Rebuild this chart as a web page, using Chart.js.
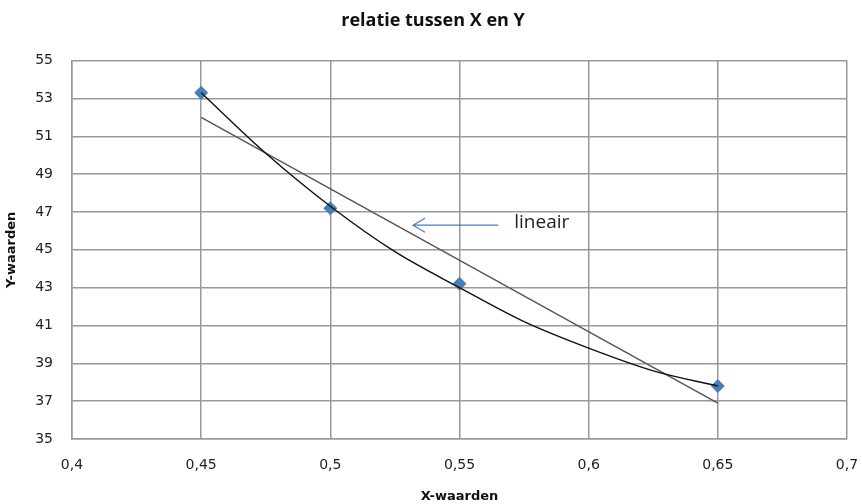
<!DOCTYPE html>
<html>
<head>
<meta charset="utf-8">
<script src="https://cdn.jsdelivr.net/npm/chart.js@4.4.1/dist/chart.umd.min.js"></script>
<style>
  html, body { margin: 0; padding: 0; background: #fff; }
  #wrap { width: 862px; height: 504px; }
</style>
</head>
<body>
<div id="wrap"><canvas id="myScatterChart" width="862" height="504"></canvas></div>
<script>
// measured points
const xValues = [0.45, 0.5, 0.55, 0.65];
const yValues = [53.3, 47.2, 43.2, 37.8];

// linear trendline endpoints
const linX = [0.45, 0.65];
const linY = [52.0, 36.9];

// curved trendline
const curveX = [0.45, 0.475, 0.5, 0.525, 0.55, 0.575, 0.6, 0.625, 0.65];
const curveY = [53.3, 50.1, 47.3, 44.9, 43.0, 41.2, 39.8, 38.6, 37.8];

// annotation arrow "lineair"
const arrowTip = { x: 0.532, y: 46.3 };
const arrowTail = { x: 0.565, y: 46.3 };
const arrowText = 'lineair';

const toPoints = (xs, ys) => xs.map((x, i) => ({ x: x, y: ys[i] }));

const arrowPlugin = {
    id: 'arrowPlugin',
    afterDatasetsDraw(chart) {
        const ctx = chart.ctx;
        const xs = chart.scales.x, ys = chart.scales.y;
        const x1 = xs.getPixelForValue(arrowTail.x), y1 = ys.getPixelForValue(arrowTail.y);
        const x2 = xs.getPixelForValue(arrowTip.x), y2 = ys.getPixelForValue(arrowTip.y);
        ctx.save();
        ctx.strokeStyle = '#4a7ebb';
        ctx.lineWidth = 1.2;
        ctx.beginPath();
        ctx.moveTo(x1, y1);
        ctx.lineTo(x2, y2);
        ctx.moveTo(x2 + 12, y2 - 7);
        ctx.lineTo(x2, y2);
        ctx.lineTo(x2 + 12, y2 + 7);
        ctx.stroke();
        ctx.fillStyle = '#222';
        ctx.font = '19px "Open Sans", sans-serif';
        ctx.textBaseline = 'middle';
        ctx.fillText(arrowText, x1 + 16, y1 - 3);
        ctx.restore();
    }
};

const ctx = document.getElementById('myScatterChart').getContext('2d');
const chart = new Chart(ctx, {
    type: 'scatter',
    data: {
        datasets: [{
            label: 'polynoom',
            type: 'line',
            data: toPoints(curveX, curveY),
            borderColor: '#111',
            borderWidth: 1.4,
            pointRadius: 0,
            tension: 0.4,
            cubicInterpolationMode: 'monotone',
            fill: false
        }, {
            label: 'lineair',
            type: 'line',
            data: toPoints(linX, linY),
            borderColor: '#555',
            borderWidth: 1.4,
            pointRadius: 0,
            tension: 0,
            fill: false
        }, {
            label: 'Y-waarden',
            data: toPoints(xValues, yValues),
            pointStyle: 'rectRot',
            pointRadius: 7,
            pointHoverRadius: 7,
            backgroundColor: '#4a7ebb',
            borderColor: '#4a7ebb',
            borderWidth: 0
        }]
    },
    options: {
        responsive: false,
        animation: false,
        layout: { padding: { left: 4, right: 0, top: 0, bottom: 0 } },
        plugins: {
            legend: { display: false },
            tooltip: { enabled: false },
            title: {
                display: true,
                text: 'relatie tussen X en Y',
                color: '#111',
                font: { family: '"Open Sans", sans-serif', size: 18, weight: 'bold' },
                padding: { top: 10, bottom: 29 }
            }
        },
        scales: {
            x: {
                type: 'linear',
                min: 0.4,
                max: 0.7,
                ticks: {
                    stepSize: 0.05,
                    color: '#222',
                    padding: 18,
                    font: { family: '"DejaVu Sans", Verdana, sans-serif', size: 14 },
                    callback: v => (Math.round(v * 100) / 100).toString().replace('.', ',')
                },
                grid: { color: '#999', lineWidth: 1.5, drawTicks: false },
                border: { color: '#999', width: 1.5 },
                title: {
                    display: true,
                    text: 'X-waarden',
                    color: '#111',
                    font: { family: '"DejaVu Sans", Verdana, sans-serif', size: 13, weight: 'bold' },
                    padding: { top: 2, bottom: 0 }
                },
                afterFit: s => { s.height = 65; s.paddingRight = 15; }
            },
            y: {
                min: 35,
                max: 55,
                ticks: {
                    stepSize: 2,
                    color: '#222',
                    padding: 19,
                    font: { family: '"DejaVu Sans", Verdana, sans-serif', size: 14 }
                },
                grid: { color: '#999', lineWidth: 1.5, drawTicks: false },
                border: { color: '#999', width: 1.5 },
                title: {
                    display: true,
                    text: 'Y-waarden',
                    color: '#111',
                    font: { family: '"DejaVu Sans", Verdana, sans-serif', size: 13, weight: 'bold' },
                    padding: { top: 0, bottom: 2 }
                },
                afterFit: s => { s.width = 68; }
            }
        }
    },
    plugins: [arrowPlugin]
});
</script>
</body>
</html>
